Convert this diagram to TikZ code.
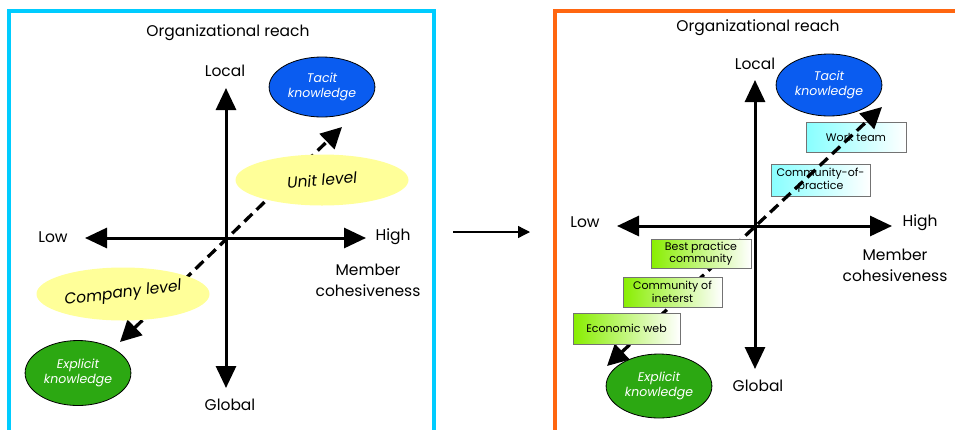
\documentclass[tikz,border=0pt]{standalone}
\usepackage{fontspec}
\setmainfont{Poppins}
\usepackage{tikz}
\usetikzlibrary{arrows.meta,shapes.geometric}
\definecolor{framecyan}{HTML}{00CCFF}
\definecolor{frameorange}{HTML}{FF6610}
\definecolor{tacitblue}{HTML}{0A5CF0}
\definecolor{explicitgreen}{HTML}{2CA812}
\definecolor{levelyellow}{HTML}{FFFF99}
\definecolor{teamcyan}{HTML}{88FFFF}
\definecolor{webgreen}{HTML}{88EE00}
\tikzset{
  label/.style={align=center, inner sep=1pt, font=\fontsize{15.5}{17}\selectfont},
  axisname/.style={align=center, inner sep=1pt, font=\fontsize{15.5}{21}\selectfont},
  knowledge/.style={ellipse, draw=black, line width=0.8pt, text=white, align=center, font=\fontsize{12.5}{15}\selectfont\itshape},
  levelblob/.style={ellipse, fill=levelyellow, inner sep=0pt},
  leveltext/.style={font=\fontsize{15.5}{17}\selectfont\itshape, inner sep=0pt},
  cyanbox/.style={draw=black!55, line width=0.6pt, left color=teamcyan, right color=white, align=center, inner sep=1pt, font=\fontsize{11}{12.5}\selectfont},
  greenbox/.style={draw=black!55, line width=0.6pt, left color=webgreen, right color=white, align=center, inner sep=1pt, font=\fontsize{11}{12.5}\selectfont},
  axis/.style={{Triangle[length=22pt,width=20pt]}-{Triangle[length=22pt,width=20pt]}, line width=3pt},
  reach/.style={{Triangle[length=21pt,width=21pt]}-{Triangle[length=21pt,width=21pt]}, line width=3.3pt, dash pattern=on 11pt off 6pt},
  thinarrow/.style={-{Triangle[length=12pt,width=12pt]}, line width=1.3pt}
}
\begin{document}
\begin{tikzpicture}[x=1pt,y=-1pt]
\useasboundingbox (0,0) rectangle (955,429);
\draw[framecyan, line width=4pt] (9,11) rectangle (434,445);
\draw[frameorange, line width=4pt] (555,11) rectangle (975,445);

\node[label] (titleL) at (228,33) {Organizational reach};
\node[label] (localL) at (225,71) {Local};
\node[label] (globalL) at (230,405) {Global};
\node[label] (lowL) at (53,237) {Low};
\node[label] (highL) at (393,237) {High};
\node[axisname] (memberL) at (368,280) {Member\\cohesiveness};
\coordinate (topL) at (226,88);
\coordinate (bottomL) at (226,388);
\coordinate (leftL) at (85,238);
\coordinate (rightL) at (366,238);
\draw[axis] (bottomL) -- (topL);
\draw[axis] (leftL) -- (rightL);
\node[knowledge, fill=tacitblue, minimum width=92pt, minimum height=60pt] (tacitL) at (322,87) {Tacit\\knowledge};
\node[knowledge, fill=explicitgreen, minimum width=100pt, minimum height=65pt] (explicitL) at (78,373) {Explicit\\knowledge};
\coordinate (companyend) at (120,342);
\coordinate (unitend) at (342,127);
\draw[reach] (companyend) -- (unitend);
\node[levelblob, minimum width=173pt, minimum height=51pt] (unitblob) at (322,180) {};
\node[leveltext, rotate=5] (unit) at (unitblob) {Unit level};
\node[levelblob, minimum width=173pt, minimum height=53pt] (companyblob) at (123,294) {};
\node[leveltext, rotate=7] (company) at (companyblob) {Company level};

\coordinate (shiftfrom) at (453,232);
\coordinate (shiftto) at (530,232);
\draw[thinarrow] (shiftfrom) -- (shiftto);

\node[label] (titleR) at (758,28) {Organizational reach};
\node[label] (localR) at (755,64) {Local};
\node[label] (globalR) at (758,386) {Global};
\node[label] (lowR) at (585,222) {Low};
\node[label] (highR) at (920,223) {High};
\node[axisname] (memberR) at (895,265) {Member\\cohesiveness};
\coordinate (topR) at (755,80);
\coordinate (bottomR) at (755,369);
\coordinate (leftR) at (617,226);
\coordinate (rightR) at (892,226);
\draw[axis] (bottomR) -- (topR);
\draw[axis] (leftR) -- (rightR);
\node[knowledge, fill=tacitblue, minimum width=99pt, minimum height=62pt] (tacitR) at (829,85) {Tacit\\knowledge};
\node[knowledge, fill=explicitgreen, minimum width=98pt, minimum height=64pt] (explicitR) at (659,386) {Explicit\\knowledge};
\node[cyanbox, minimum width=100pt, minimum height=30pt] (team) at (856,137) {Work team};
\node[cyanbox, minimum width=99pt, minimum height=32pt] (practice) at (820.5,180) {Community-of-\\practice};
\coordinate (webend) at (607,366);
\coordinate (teamend) at (882,107);
\draw[reach] (webend) -- (teamend);
\node[greenbox, minimum width=100pt, minimum height=29pt] (best) at (701,253.5) {Best practice\\community};
\node[greenbox, minimum width=99pt, minimum height=30pt] (interest) at (672.5,292) {Community of\\ineterst};
\node[greenbox, minimum width=107pt, minimum height=31pt] (web) at (626.5,328.5) {Economic web};
\end{tikzpicture}
\end{document}
